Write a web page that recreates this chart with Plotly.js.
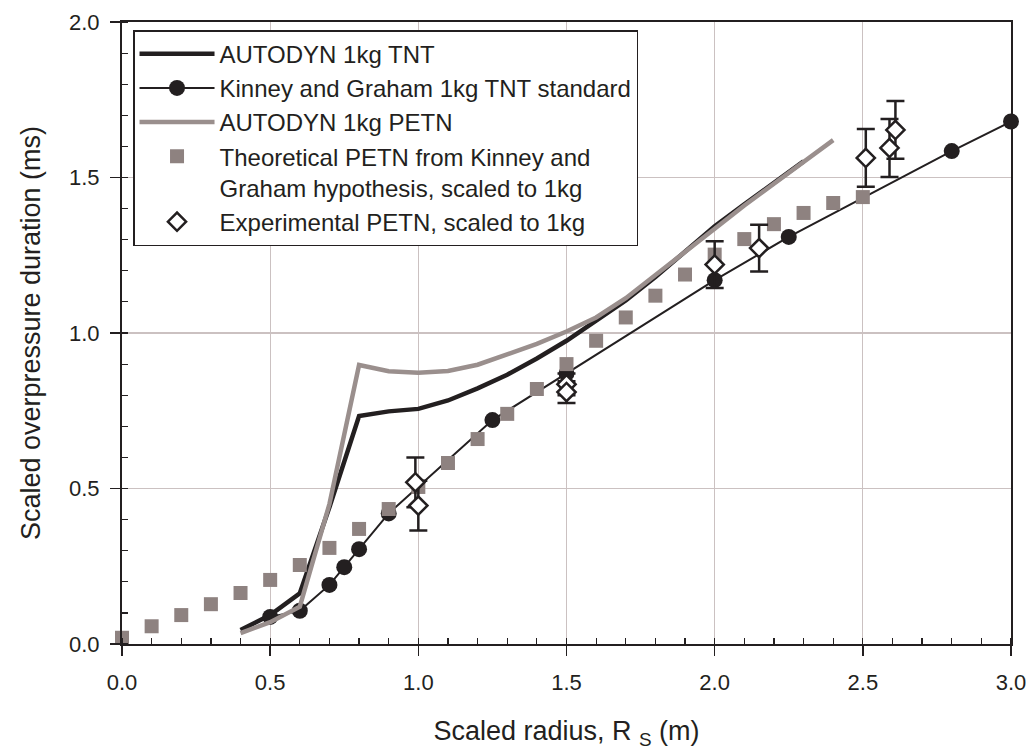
<!DOCTYPE html>
<html>
<head>
<meta charset="utf-8">
<script src="https://cdn.plot.ly/plotly-3.0.1.min.js"></script>
<style>html,body{margin:0;padding:0;background:#fff;}#chart{width:1034px;height:756px;}</style>
</head>
<body>
<div id="chart"></div>
<script>
// AUTODYN 1kg TNT
const autoTntX = [0.4, 0.5, 0.6, 0.7, 0.8, 0.9, 1.0, 1.1, 1.2, 1.3, 1.4, 1.5, 1.6, 1.7, 1.8, 1.9, 2.0, 2.1, 2.2, 2.3];
const autoTntY = [0.045, 0.093, 0.163, 0.44, 0.733, 0.748, 0.756, 0.783, 0.822, 0.866, 0.918, 0.975, 1.04, 1.105, 1.18, 1.26, 1.343, 1.414, 1.483, 1.552];
// Kinney and Graham 1kg TNT standard
const kgX = [0.5, 0.6, 0.7, 0.75, 0.8, 0.9, 1.25, 1.5, 2.0, 2.25, 2.8, 3.0];
const kgY = [0.087, 0.107, 0.19, 0.247, 0.305, 0.42, 0.72, 0.87, 1.17, 1.309, 1.585, 1.68];
// AUTODYN 1kg PETN
const autoPetnX = [0.4, 0.5, 0.6, 0.7, 0.8, 0.9, 1.0, 1.1, 1.2, 1.3, 1.4, 1.5, 1.6, 1.7, 1.8, 1.9, 2.0, 2.1, 2.2, 2.3, 2.4];
const autoPetnY = [0.035, 0.07, 0.12, 0.45, 0.897, 0.877, 0.872, 0.878, 0.898, 0.93, 0.965, 1.005, 1.05, 1.112, 1.185, 1.26, 1.335, 1.41, 1.48, 1.55, 1.62];
// Theoretical PETN from Kinney and Graham hypothesis
const theoX = [0.0, 0.1, 0.2, 0.3, 0.4, 0.5, 0.6, 0.7, 0.8, 0.9, 1.0, 1.1, 1.2, 1.3, 1.4, 1.5, 1.6, 1.7, 1.8, 1.9, 2.0, 2.1, 2.2, 2.3, 2.4, 2.5];
const theoY = [0.02, 0.057, 0.093, 0.128, 0.164, 0.206, 0.254, 0.309, 0.37, 0.434, 0.505, 0.582, 0.659, 0.74, 0.82, 0.90, 0.975, 1.05, 1.12, 1.188, 1.252, 1.302, 1.35, 1.386, 1.418, 1.437];
// Experimental PETN, scaled to 1kg
const expX = [0.99, 1.0, 1.5, 1.5, 2.0, 2.15, 2.51, 2.59, 2.61];
const expY = [0.52, 0.445, 0.835, 0.81, 1.22, 1.273, 1.563, 1.595, 1.653];
const expErr = [0.08, 0.08, 0.035, 0.035, 0.075, 0.075, 0.093, 0.093, 0.093];

const xTicks = [0, 0.5, 1.0, 1.5, 2.0, 2.5, 3.0];
const yTicks = [0, 0.5, 1.0, 1.5, 2.0];

const BLACK = '#231f20';
const GREYLINE = '#9a8f8d';
const GREYSQ = '#8e8280';
const FONT = '"Liberation Sans", Arial, Helvetica, sans-serif';

const traces = [
  {x: autoTntX, y: autoTntY, mode: 'lines', name: 'AUTODYN 1kg TNT',
   line: {color: BLACK, width: 4.5}, cliponaxis: false},
  {x: kgX, y: kgY, mode: 'lines+markers', name: 'Kinney and Graham 1kg TNT standard',
   line: {color: BLACK, width: 2}, marker: {color: BLACK, size: 16, symbol: 'circle'}, cliponaxis: false},
  {x: autoPetnX, y: autoPetnY, mode: 'lines', name: 'AUTODYN 1kg PETN',
   line: {color: GREYLINE, width: 4.5}, cliponaxis: false},
  {x: theoX, y: theoY, mode: 'markers', name: 'Theoretical PETN from Kinney and<br>Graham hypothesis, scaled to 1kg',
   marker: {color: GREYSQ, size: 14, symbol: 'square'}, cliponaxis: false},
  {x: expX, y: expY, mode: 'markers', name: 'Experimental PETN, scaled to 1kg',
   marker: {color: '#ffffff', size: 14, symbol: 'diamond', line: {color: BLACK, width: 2.5}},
   error_y: {type: 'data', array: expErr, visible: true, color: BLACK, thickness: 2.5, width: 9},
   cliponaxis: false}
];

const layout = {
  width: 1034, height: 756,
  margin: {l: 122, r: 23, t: 22, b: 112},
  paper_bgcolor: '#ffffff', plot_bgcolor: '#ffffff',
  font: {family: FONT, color: BLACK, size: 22},
  showlegend: true,
  legend: {
    x: 0.0124, y: 0.987, xanchor: 'left', yanchor: 'top',
    bgcolor: '#ffffff', bordercolor: BLACK, borderwidth: 1.5,
    font: {family: FONT, size: 24, color: BLACK},
    itemwidth: 75, valign: 'top', tracegroupgap: 0
  },
  xaxis: {
    range: [0, 3.0], tickvals: xTicks, tickformat: '.1f',
    showline: true, linecolor: BLACK, linewidth: 2, mirror: true,
    ticks: 'outside', ticklen: 10, tickwidth: 1.5, tickcolor: BLACK,
    ticklabelstandoff: 8,
    showgrid: true, gridcolor: '#cbc1c1', gridwidth: 1.2,
    zeroline: false,
    minor: {dtick: 0.1, ticks: 'inside', ticklen: 6, tickwidth: 1.2, tickcolor: BLACK, showgrid: false},
    tickfont: {family: FONT, size: 22, color: BLACK},
    title: {text: 'Scaled radius, R <sub>S</sub> (m)', font: {family: FONT, size: 27, color: BLACK}, standoff: 27}
  },
  yaxis: {
    range: [0, 2.0], tickvals: yTicks, tickformat: '.1f',
    showline: true, linecolor: BLACK, linewidth: 2, mirror: true,
    ticks: 'outside', ticklen: 10, tickwidth: 1.5, tickcolor: BLACK,
    ticklabelstandoff: 6,
    showgrid: true, gridcolor: '#cbc1c1', gridwidth: 1.2,
    zeroline: false,
    minor: {dtick: 0.1, ticks: 'inside', ticklen: 6, tickwidth: 1.2, tickcolor: BLACK, showgrid: false},
    tickfont: {family: FONT, size: 22, color: BLACK},
    title: {text: 'Scaled overpressure duration (ms)', font: {family: FONT, size: 27, color: BLACK}, standoff: 21}
  }
};

Plotly.newPlot('chart', traces, layout, {displayModeBar: false, staticPlot: true});
</script>
</body>
</html>
